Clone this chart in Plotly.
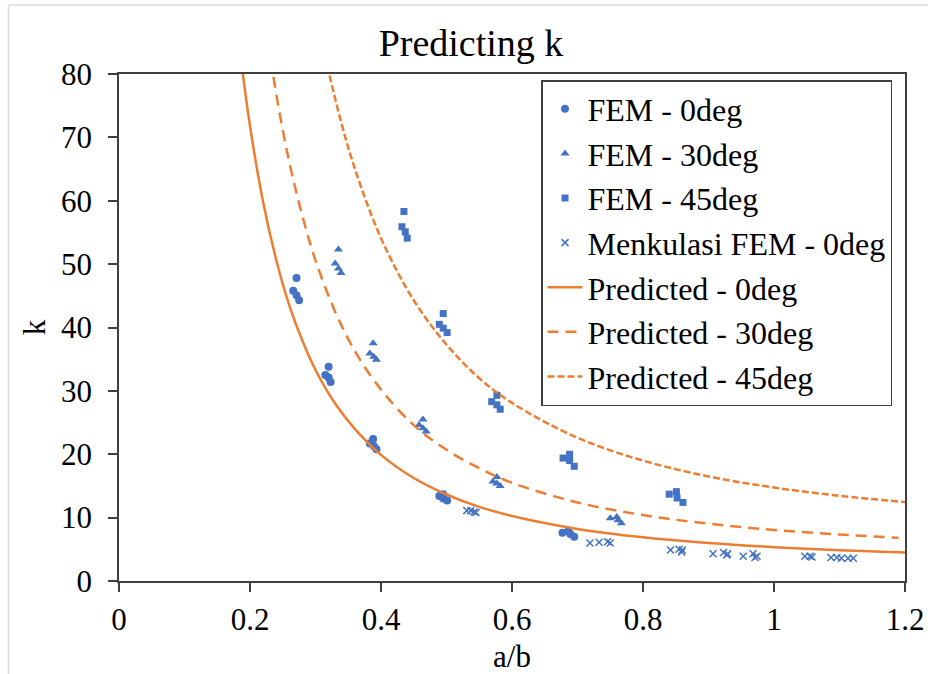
import plotly.graph_objects as go

# FEM results (a/b, k)
fem0_x = [0.271, 0.266, 0.271, 0.275, 0.320, 0.315, 0.320, 0.323, 0.388, 0.383, 0.389, 0.393,
          0.495, 0.489, 0.495, 0.501, 0.677, 0.686, 0.689, 0.695]
fem0_k = [47.8, 45.8, 45.1, 44.3, 33.8, 32.5, 32.1, 31.4, 22.4, 21.7, 21.3, 20.8,
          13.7, 13.4, 13.0, 12.7, 7.6, 7.9, 7.4, 7.0]

fem30_x = [0.335, 0.330, 0.335, 0.339, 0.388, 0.383, 0.389, 0.393, 0.464, 0.458, 0.464, 0.469,
           0.577, 0.571, 0.577, 0.582, 0.750, 0.760, 0.762, 0.767]
fem30_k = [52.3, 50.1, 49.3, 48.6, 37.5, 35.9, 35.4, 34.9, 25.5, 24.6, 24.1, 23.6,
           16.4, 15.7, 15.4, 15.0, 9.9, 10.1, 9.6, 9.1]

fem45_x = [0.435, 0.432, 0.437, 0.440, 0.495, 0.489, 0.495, 0.501, 0.577, 0.569, 0.577, 0.582,
           0.678, 0.688, 0.688, 0.695, 0.840, 0.851, 0.852, 0.861]
fem45_k = [58.3, 55.9, 55.1, 54.1, 42.2, 40.5, 39.9, 39.2, 29.3, 28.3, 27.8, 27.1,
           19.4, 20.0, 19.0, 18.1, 13.7, 14.1, 13.1, 12.4]

menk_x = [0.531, 0.537, 0.542, 0.545, 0.719, 0.733, 0.746, 0.750, 0.842, 0.855, 0.860, 0.859,
          0.907, 0.923, 0.929, 0.928, 0.953, 0.968, 0.974, 0.971, 1.047, 1.055, 1.058,
          1.087, 1.096, 1.103, 1.113, 1.121]
menk_k = [11.1, 11.1, 10.9, 10.8, 6.0, 6.1, 6.2, 6.0, 4.9, 5.0, 4.9, 4.6,
          4.3, 4.5, 4.3, 4.1, 3.9, 4.3, 3.9, 3.7, 3.9, 3.9, 3.8,
          3.7, 3.7, 3.6, 3.6, 3.6]

# Predicted curves
pred0_x = [0.18, 0.19, 0.20, 0.22, 0.24, 0.26, 0.28, 0.30, 0.33, 0.36, 0.40, 0.45, 0.50,
           0.55, 0.60, 0.70, 0.80, 0.90, 1.00, 1.10, 1.20]
pred0_k = [88.1, 79.3, 71.8, 59.8, 50.7, 43.5, 37.9, 33.3, 28.0, 24.0, 19.9, 16.25, 13.65,
           11.7, 10.26, 8.22, 6.90, 5.99, 5.34, 4.86, 4.49]

pred30_x = [0.22, 0.24, 0.26, 0.28, 0.30, 0.33, 0.36, 0.40, 0.45, 0.50, 0.55, 0.60, 0.70,
            0.80, 0.90, 1.00, 1.10, 1.19]
pred30_k = [90.8, 76.9, 66.1, 57.6, 50.6, 42.5, 36.3, 30.2, 24.6, 20.7, 17.8, 15.5, 12.4,
            10.4, 9.05, 8.06, 7.33, 6.82]

pred45_x = [0.30, 0.32, 0.34, 0.36, 0.40, 0.45, 0.50, 0.55, 0.60, 0.70, 0.80, 0.90, 1.00,
            1.10, 1.20]
pred45_k = [90.6, 80.5, 72.1, 65.1, 54.1, 44.3, 37.3, 32.0, 28.1, 22.6, 19.0, 16.5, 14.75,
            13.45, 12.46]

x_ticks = [0, 0.2, 0.4, 0.6, 0.8, 1.0, 1.2]
x_tick_text = ["0", "0.2", "0.4", "0.6", "0.8", "1", "1.2"]
y_ticks = [0, 10, 20, 30, 40, 50, 60, 70, 80]

BLUE = "#4472C4"
ORANGE = "#ED7D31"
FONT = "Liberation Serif, Times New Roman, serif"
AXIS = "#404040"

fig = go.Figure()

fig.add_trace(go.Scatter(x=fem0_x, y=fem0_k, mode="markers", name="FEM - 0deg",
                         marker=dict(symbol="circle", size=8, color=BLUE)))
fig.add_trace(go.Scatter(x=fem30_x, y=fem30_k, mode="markers", name="FEM - 30deg",
                         marker=dict(symbol="triangle-up", size=8, color=BLUE)))
fig.add_trace(go.Scatter(x=fem45_x, y=fem45_k, mode="markers", name="FEM - 45deg",
                         marker=dict(symbol="square", size=7, color=BLUE)))
fig.add_trace(go.Scatter(x=menk_x, y=menk_k, mode="markers", name="Menkulasi FEM - 0deg",
                         marker=dict(symbol="x-thin", size=7, color=BLUE,
                                     line=dict(width=1.5, color=BLUE))))
fig.add_trace(go.Scatter(x=pred0_x, y=pred0_k, mode="lines", name="Predicted - 0deg",
                         line=dict(color=ORANGE, width=2.5, shape="spline")))
fig.add_trace(go.Scatter(x=pred30_x, y=pred30_k, mode="lines", name="Predicted - 30deg",
                         line=dict(color=ORANGE, width=2.5, dash="11px,7px", shape="spline")))
fig.add_trace(go.Scatter(x=pred45_x, y=pred45_k, mode="lines", name="Predicted - 45deg",
                         line=dict(color=ORANGE, width=2.5, dash="7px,3px", shape="spline")))

L, R, T, B = 119, 23, 74, 93
W, H = 928, 674
pw, ph = W - L - R, H - T - B

def px_x(p):
    return (p - L) / pw

def px_y(p):
    return (H - B - p) / ph

fig.update_layout(
    width=W, height=H,
    margin=dict(l=L, r=R, t=T, b=B, pad=0, autoexpand=False),
    paper_bgcolor="white", plot_bgcolor="white",
    font=dict(family=FONT, size=31, color="black"),
    title=dict(text="Predicting k", x=px_x(471), xref="paper", xanchor="center",
               y=1 - 43 / H, yref="container", yanchor="middle",
               font=dict(family=FONT, size=38, color="black")),
    showlegend=True,
    legend=dict(x=px_x(541), y=px_y(80), xanchor="left", yanchor="top",
                bgcolor="white", bordercolor=AXIS, borderwidth=1.5,
                font=dict(family=FONT, size=32, color="black"),
                itemwidth=35, tracegroupgap=0),
    xaxis=dict(range=[0, 1.2], tickvals=x_ticks, ticktext=x_tick_text, automargin=False,
               showgrid=False, zeroline=False, showline=True, linecolor=AXIS, linewidth=1.5,
               mirror=True, ticks="outside", ticklen=9, tickcolor=AXIS, tickwidth=1.5,
               ticklabelstandoff=1,
               title=dict(text="a/b", standoff=12, font=dict(family=FONT, size=31))),
    yaxis=dict(range=[0, 80], tickvals=y_ticks, automargin=False,
               showgrid=False, zeroline=False, showline=True, linecolor=AXIS, linewidth=1.5,
               mirror=True, ticks="outside", ticklen=9, tickcolor=AXIS, tickwidth=1.5,
               ticklabelstandoff=10,
               title=dict(text="k", standoff=6, font=dict(family=FONT, size=31))),
    shapes=[dict(type="rect", xref="paper", yref="paper", layer="below",
                 x0=px_x(8.5), x1=px_x(960), y0=px_y(700), y1=px_y(5),
                 line=dict(color="#D9D9D9", width=1.5), fillcolor="rgba(0,0,0,0)")],
)

fig.write_html("out.html")
